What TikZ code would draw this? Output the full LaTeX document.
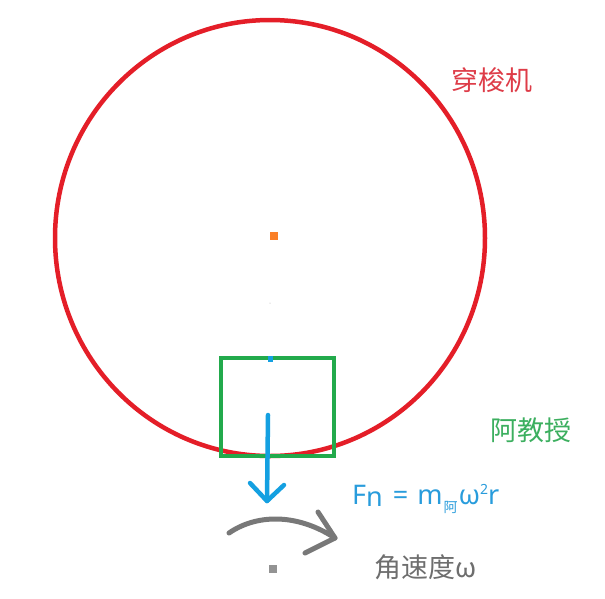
\documentclass[tikz,border=0pt]{standalone}
\usepackage{fontspec}
\setmainfont{Noto Sans}
\newfontfamily\cjk{Noto Sans CJK SC}
\definecolor{pred}{RGB}{228,30,40}
\definecolor{pgreen}{RGB}{34,170,76}
\definecolor{pblue}{RGB}{20,160,225}
\definecolor{porange}{RGB}{250,127,39}
\definecolor{pgray}{RGB}{120,120,120}
\definecolor{tred}{RGB}{222,60,72}
\definecolor{tgreen}{RGB}{60,175,95}
\definecolor{tblue}{RGB}{40,156,220}
\definecolor{tgray}{RGB}{110,110,110}
\tikzset{
  lbl/.style={inner sep=0pt, font=\cjk\fontsize{27}{30}\selectfont},
  dotsq/.style={minimum size=8pt, inner sep=0pt},
}
\begin{document}
\begin{tikzpicture}[x=1pt,y=-1pt]
\useasboundingbox (0,0) rectangle (605,598);
\fill[white] (0,0) rectangle (605,598);
% shuttle circle
\draw[pred, line width=4.5pt] (270,238) ellipse [x radius=215, y radius=218];
\node[lbl, text=tred, anchor=west] (shuttle) at (451,80) {穿梭机};
% centre
\node[dotsq, fill=porange] (centre) at (274,236) {};
\node[circle, fill=pgray!60, minimum size=1pt, inner sep=0pt] (dot) at (270,303) {};
% professor box
\node[draw=pgreen, line width=4.5pt, minimum width=113pt, minimum height=98pt, inner sep=0pt] (prof) at (277.5,407) {};
\node[lbl, text=tgreen, anchor=west] (proflbl) at (490,430) {阿教授};
\fill[pblue] (268,356) rectangle (273,362);
% force arrow
\coordinate (fs) at (268,415);
\coordinate (fe) at (267,501);
\coordinate (al) at (250,483);
\coordinate (ar) at (284,485);
\draw[pblue, line width=4.5pt, line cap=round] (fs) -- (fe);
\draw[pblue, line width=4.5pt, line cap=round, line join=round] (al) -- (fe) -- (ar);
\node[inner sep=0pt, anchor=base west, text=tblue, font=\fontsize{27}{30}\selectfont] (force) at (352,504)
  {F\raisebox{-2pt}{n}\hspace{3pt} = \hspace{2pt}m\hspace{1pt}\raisebox{-8pt}{\cjk\fontsize{14}{14}\selectfont 阿}\hspace{1pt}ω\raisebox{10pt}{\fontsize{14}{14}\selectfont 2}r};
% angular velocity arrow
\coordinate (w1) at (229,533);
\coordinate (w2) at (335,538);
\coordinate (wa) at (318,512);
\coordinate (wb) at (305,553);
\draw[pgray, line width=5pt, line cap=round] (w1) .. controls (255,515) and (295,512) .. (w2);
\draw[pgray, line width=5pt, line cap=round, line join=round] (wa) -- (w2) -- (wb);
\node[dotsq, fill=pgray!80] (axis) at (273,569) {};
\node[inner sep=0pt, anchor=west, text=tgray, font=\cjk\fontsize{27}{30}\selectfont] (wlbl) at (374,567) {角速度ω};
\end{tikzpicture}
\end{document}
